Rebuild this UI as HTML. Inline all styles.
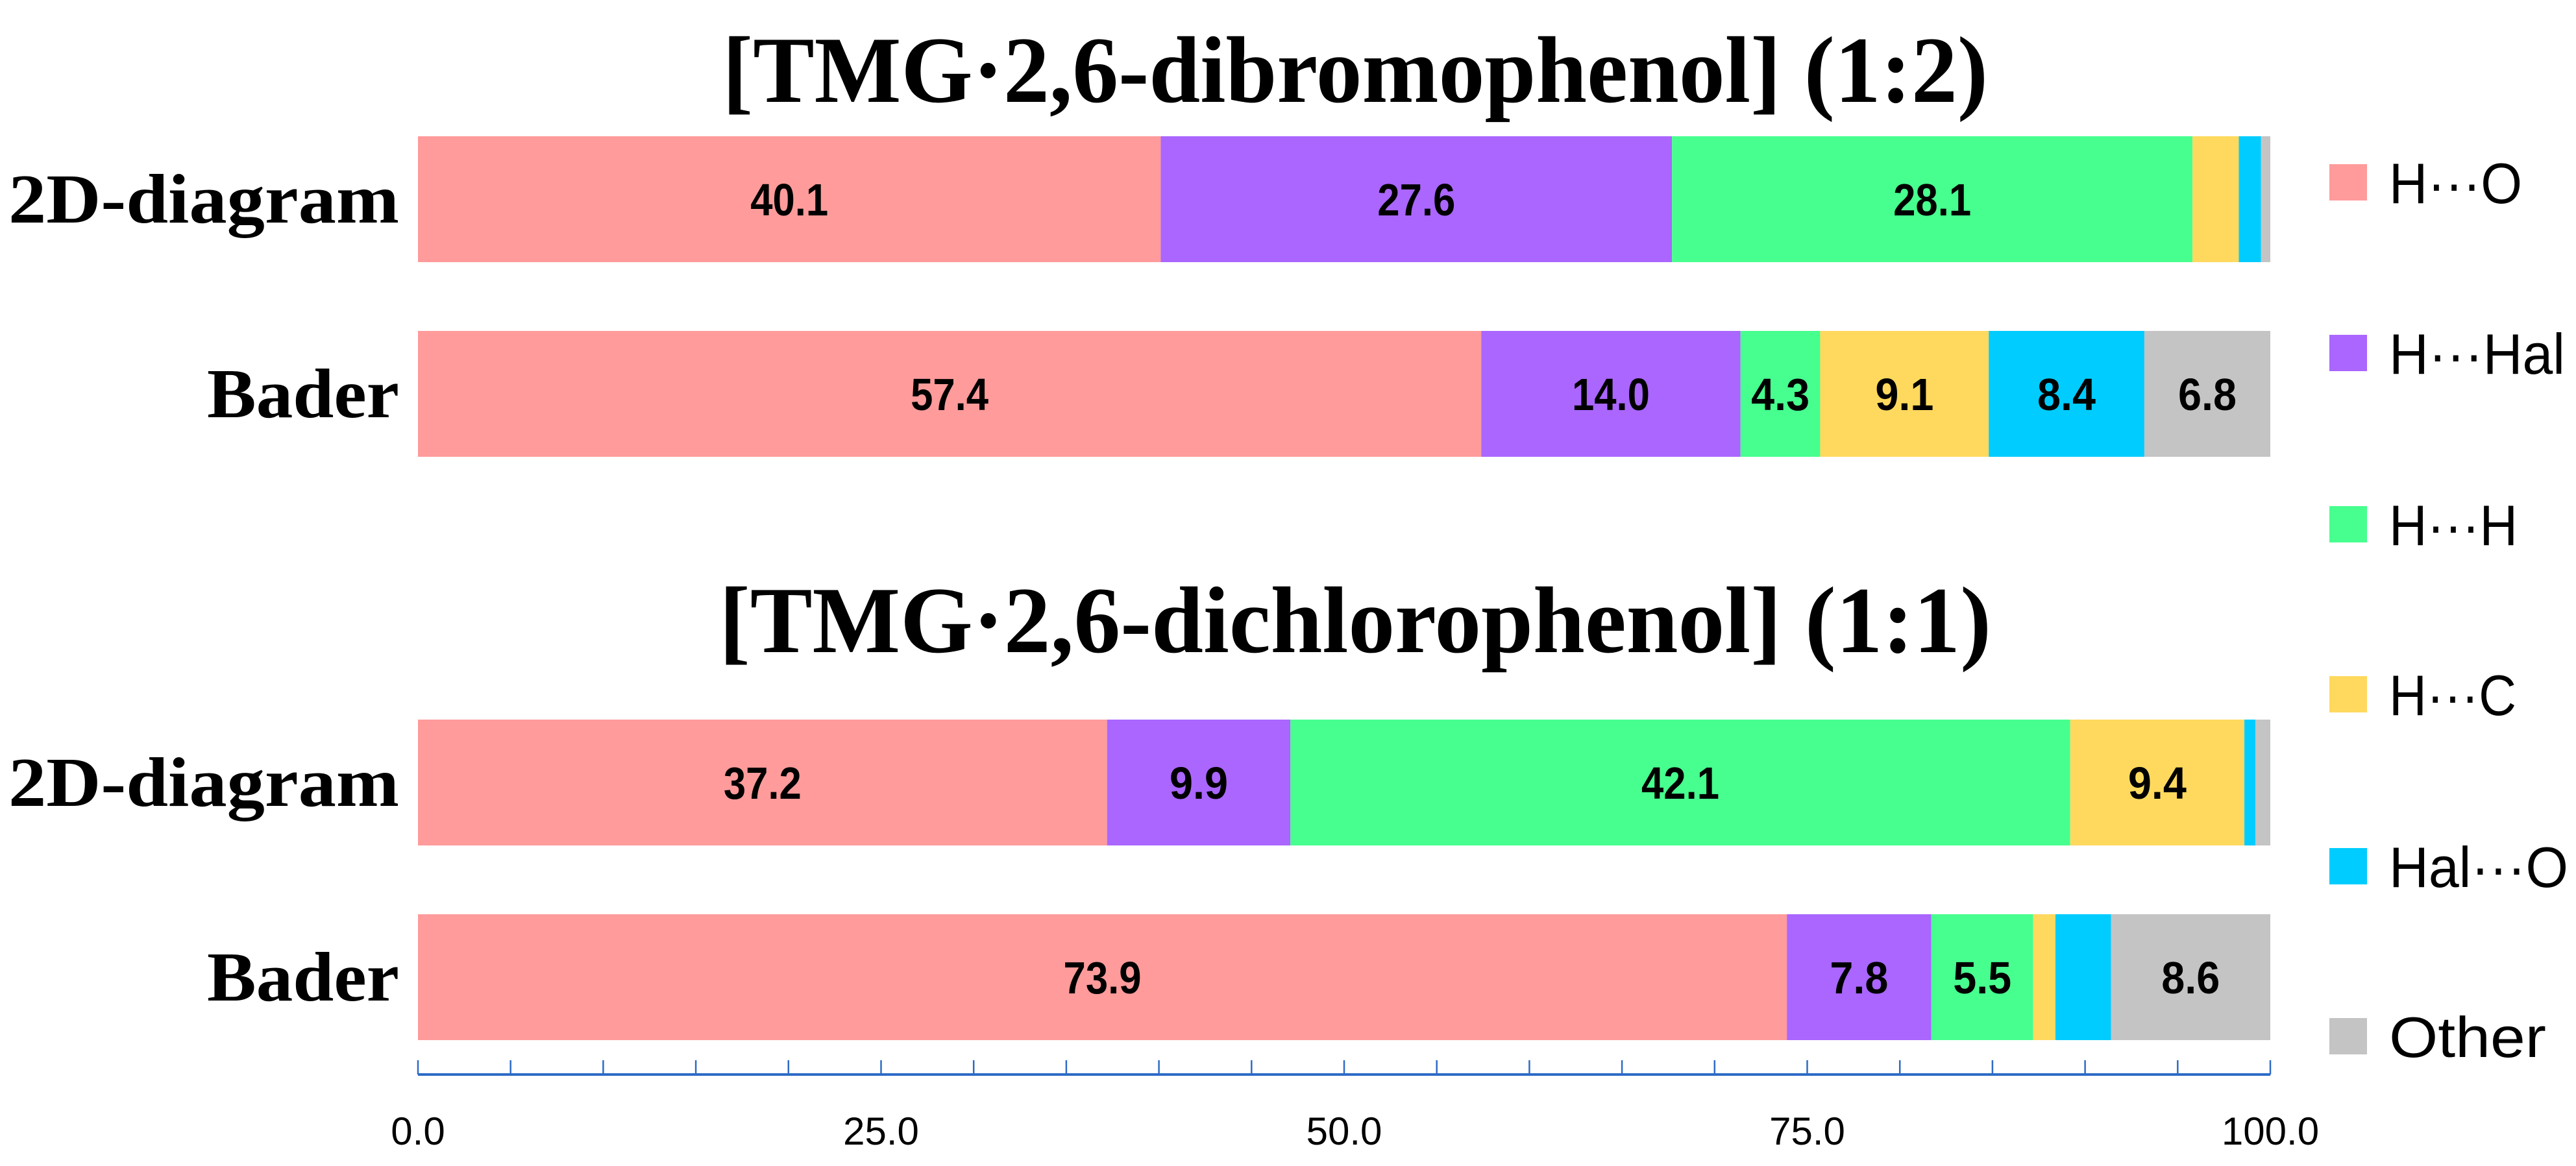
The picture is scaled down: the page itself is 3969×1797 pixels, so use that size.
<!DOCTYPE html>
<html><head><meta charset="utf-8"><style>
html,body{margin:0;padding:0;background:#fff;}
svg{display:block;}
</style></head><body>
<svg id="chart" width="3969" height="1797" viewBox="0 0 3969 1797" xmlns="http://www.w3.org/2000/svg">
<text x="2088" y="157" text-anchor="middle" font-family="Liberation Serif, serif" font-weight="bold" font-size="146" textLength="1950" lengthAdjust="spacingAndGlyphs">[TMG·2,6-dibromophenol] (1:2)</text>
<text x="2088" y="1005" text-anchor="middle" font-family="Liberation Serif, serif" font-weight="bold" font-size="146" textLength="1960" lengthAdjust="spacingAndGlyphs">[TMG·2,6-dichlorophenol] (1:1)</text>
<g id="bars"></g>
<g id="axis"></g>
<g id="legend"></g>
</svg>
<script>
const categories = ["2D-diagram","Bader","2D-diagram","Bader"];
const series = ["H···O","H···Hal","H···H","H···C","Hal···O","Other"];
const colors = ["#FF9B9B","#AA66FF","#47FF8F","#FFD95E","#00CCFF","#C4C4C4"];
const rowDiBr2D = [40.1,27.6,28.1,2.5,1.2,0.5];
const rowDiBrBader = [57.4,14.0,4.3,9.1,8.4,6.8];
const rowDiCl2D = [37.2,9.9,42.1,9.4,0.6,0.8];
const rowDiClBader = [73.9,7.8,5.5,1.2,3.0,8.6];
const rowLabels = [
  ["40.1","27.6","28.1","","",""],
  ["57.4","14.0","4.3","9.1","8.4","6.8"],
  ["37.2","9.9","42.1","9.4","",""],
  ["73.9","7.8","5.5","","","8.6"]
];
const tickLabels = ["0.0","25.0","50.0","75.0","100.0"];
const tickValues = [0,25,50,75,100];

const NS="http://www.w3.org/2000/svg";
const X0=644, X1=3498;
function xs(v){return X0+(X1-X0)*v/100;}
const rowTop=[210,510,1109,1409], rowH=194;
const rows=[rowDiBr2D,rowDiBrBader,rowDiCl2D,rowDiClBader];
const gb=document.getElementById('bars');
function mk(tag,attrs,parent){const e=document.createElementNS(NS,tag);for(const k in attrs)e.setAttribute(k,attrs[k]);parent.appendChild(e);return e;}
rows.forEach((vals,r)=>{
  const lab=mk('text',{x:615,y:rowTop[r]+rowH/2+36,'text-anchor':'end','font-family':'Liberation Serif, serif','font-weight':'bold','font-size':108,textLength:categories[r]==="Bader"?296:602,lengthAdjust:'spacingAndGlyphs'},gb);
  
  
  lab.textContent=categories[r];
  let acc=0;
  vals.forEach((v,i)=>{
    const rc=mk('rect',{x:xs(acc),y:rowTop[r],width:xs(acc+v)-xs(acc),height:rowH,fill:colors[i]},gb);
    
    
    if(rowLabels[r][i]){
      const t=mk('text',{x:(xs(acc)+xs(acc+v))/2,y:rowTop[r]+rowH/2+25,'text-anchor':'middle','font-family':'Liberation Sans, sans-serif','font-weight':'bold','font-size':70,transform:''},gb);
      
      
      t.setAttribute('textLength',String(rowLabels[r][i].length*30));
      t.setAttribute('lengthAdjust','spacingAndGlyphs');
      t.textContent=rowLabels[r][i];
    }
    acc+=v;
  });
});
const ga=document.getElementById('axis');
const al=mk('line',{x1:X0,x2:X1,y1:1656,y2:1656,stroke:'#2E6BC6','stroke-width':4},ga);


for(let v=0;v<=100;v+=5){
  const tk=mk('line',{x1:xs(v),x2:xs(v),y1:1634,y2:1656,stroke:'#2E6BC6','stroke-width':2.5},ga);
  
  
}
tickValues.forEach((v,i)=>{
  const t=mk('text',{x:xs(v),y:1764,'text-anchor':'middle','font-family':'Liberation Sans, sans-serif','font-size':60},ga);
  
  
  t.textContent=tickLabels[i];
});
const gl=document.getElementById('legend');
const legY=[281,544,808,1070,1335,1597];
const legW=[205,271,198,196,276,242];
series.forEach((s,i)=>{
  const sq=mk('rect',{x:3589,y:legY[i]-28,width:58,height:56,fill:colors[i]},gl);
  
  
  const t=mk('text',{x:3681,y:legY[i]+32,'font-family':'Liberation Sans, sans-serif','font-size':88,textLength:legW[i],lengthAdjust:'spacingAndGlyphs'},gl);
  
  
  t.textContent=s;
});
</script>
</body></html>
